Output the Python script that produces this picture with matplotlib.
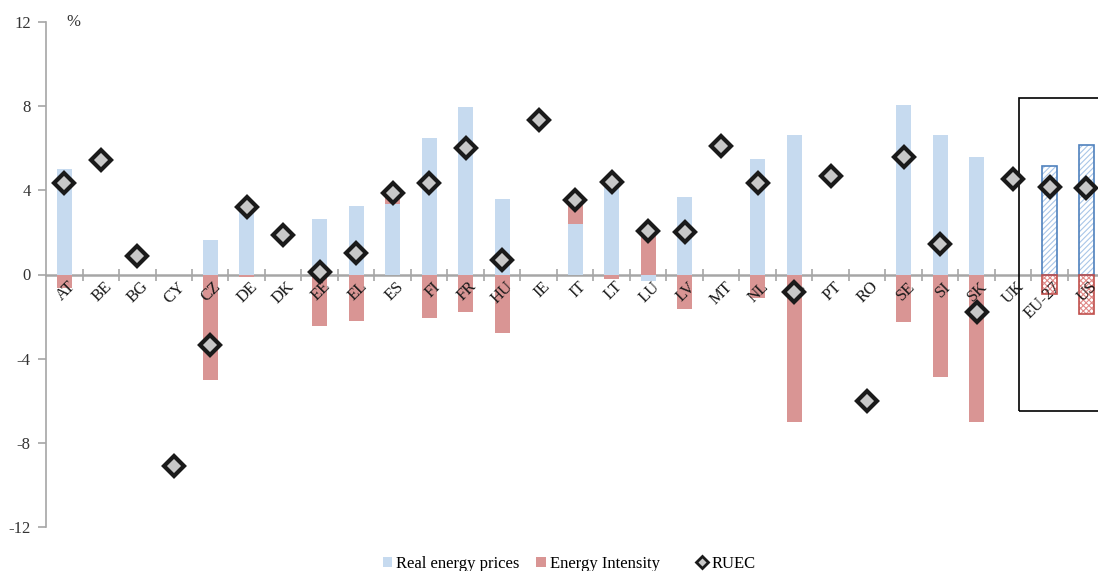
import numpy as np
import matplotlib
matplotlib.use("Agg")
from matplotlib import pyplot as plt
from matplotlib.patches import Rectangle, Patch
from matplotlib.lines import Line2D
import matplotlib.transforms as mtrans

plt.rcParams["font.family"] = ["Liberation Serif", "DejaVu Serif"]
plt.rcParams["hatch.linewidth"] = 0.8

countries = ["AT", "BE", "BG", "CY", "CZ", "DE", "DK", "EE", "EL", "ES", "FI", "FR", "HU", "IE", "IT",
             "LT", "LU", "LV", "MT", "NL", "PL", "PT", "RO", "SE", "SI", "SK", "UK", "EU-27", "US"]
prices = [5.0, 0, 0, 0, 1.65, 3.1, 0, 2.65, 3.25, 3.33, 6.5, 7.95, 3.6, 0, 2.38,
          4.2, -0.3, 3.7, 0, 5.5, 6.65, 0, 0, 8.05, 6.65, 5.6, 0, 5.15, 6.15]
intensity = [-0.65, 0, 0, 0, -5.0, -0.1, 0, -2.47, -2.2, 0.4, -2.07, -1.78, -2.8, 0, 1.05,
             -0.2, 2.05, -1.65, 0, -1.1, -7.0, 0, 0, -2.25, -4.85, -7.0, 0, -0.92, -1.9]
ruec = [4.33, 5.42, 0.86, -9.1, -3.37, 3.23, 1.88, 0.14, 1.0, 3.85, 4.33, 6.03, 0.71, 7.33, 3.52,
        4.4, 2.09, 2.0, 6.13, 4.33, -0.81, 4.67, -6.03, 5.6, 1.47, -1.76, 4.56, 4.18, 4.13]

blue = "#c6daef"
red = "#d99594"
grey = "#a6a6a6"
x = np.arange(len(countries))
w = 0.41
n_hatched = 2

fig = plt.figure(figsize=(10.98, 5.71), dpi=100)
ax = fig.add_axes([46 / 1098, 44 / 571, 1058.5 / 1098, 505 / 571])

p = np.array(prices)
e = np.array(intensity)
# stack like Excel: positives on positives, negatives on negatives
e_bottom = np.where((e > 0) & (p > 0), p, 0)
e_bottom = np.where((e < 0) & (p < 0), p, e_bottom)

solid = x < len(countries) - n_hatched
ax.bar(x[solid], p[solid], w, color=blue, linewidth=0, zorder=2)
ax.bar(x[solid], e[solid], w, bottom=e_bottom[solid], color=red, linewidth=0, zorder=2)

# EU-27 and US: hatched bars
hx = x[~solid]
ax.bar(hx, p[~solid], w, color="white", edgecolor="#a9c6e8", hatch="//////", linewidth=0, zorder=2)
ax.bar(hx, p[~solid], w, fill=False, edgecolor="#4f81bd", linewidth=1.2, zorder=3)
ax.bar(hx, e[~solid], w, color="white", edgecolor="#e08a88", hatch="xxxxxx", linewidth=0, zorder=2)
ax.bar(hx, e[~solid], w, fill=False, edgecolor="#c0504d", linewidth=1.2, zorder=3)

ax.plot(x, ruec, linestyle="none", marker="D", markersize=10.5, markerfacecolor="#c8c8c8",
        markeredgecolor="#1a1a1a", markeredgewidth=3, zorder=7, clip_on=False)

# box around EU-27 / US
ax.add_patch(Rectangle((26.16, -6.5), 3.0, 14.87, fill=False, edgecolor="black",
                       linewidth=1.2, zorder=4, clip_on=False))

ax.set_xlim(-0.5, len(countries) - 0.5)
ax.set_ylim(-12, 12)
ax.set_yticks([12, 8, 4, 0, -4, -8, -12])
ax.set_yticklabels(["12", "8", "4", "0", "-4", "-8", "-12"], fontsize=12, color="#333333")

for s in ["top", "right"]:
    ax.spines[s].set_visible(False)
ax.spines["left"].set_color(grey)
ax.spines["left"].set_linewidth(1.2)
ax.spines["bottom"].set_position(("data", 0))
ax.spines["bottom"].set_color(grey)
ax.spines["bottom"].set_linewidth(1.8)
ax.spines["bottom"].set_zorder(1)
ax.tick_params(axis="y", direction="out", length=6, color=grey, width=1.2, pad=5)

ax.set_xticks(x)
ax.set_xticks(np.arange(0.5, len(countries) - 0.5, 1.0), minor=True)
ax.tick_params(axis="x", which="major", length=0, pad=3)
ax.tick_params(axis="x", which="minor", direction="inout", length=9, width=1.2, color=grey)
ax.xaxis.set_zorder(6)
offset = mtrans.ScaledTranslation(3 / 100, 0, fig.dpi_scale_trans)
ax.set_xticklabels(countries, rotation=45, ha="right", va="top", rotation_mode="anchor",
                   fontsize=12, color="#1a1a1a")
for lab in ax.get_xticklabels():
    lab.set_transform(lab.get_transform() + offset)

ax.text(0.05, 12, "%", fontsize=12, color="#333333", va="center")

# legend: bars, then the RUEC marker a bit further right (like Excel)
bar_handles = [Patch(facecolor=blue, edgecolor="none"), Patch(facecolor=red, edgecolor="none")]
leg1 = fig.legend(bar_handles, ["Real energy prices", "Energy Intensity"], loc="center left",
                  bbox_to_anchor=(383 / 1098, 0.012), ncol=2, frameon=False, fontsize=12,
                  borderpad=0, borderaxespad=0, handlelength=0.55, handleheight=0.55,
                  handletextpad=0.25, columnspacing=1.0)
ruec_handle = Line2D([], [], linestyle="none", marker="D", markersize=6, markerfacecolor="#c8c8c8",
                     markeredgecolor="#1a1a1a", markeredgewidth=2)
fig.legend([ruec_handle], ["RUEC"], loc="center left", bbox_to_anchor=(696 / 1098, 0.012),
           frameon=False, fontsize=12, borderpad=0, borderaxespad=0,
           handlelength=0.7, handletextpad=0.25)

fig.savefig("out.png", dpi=100)
